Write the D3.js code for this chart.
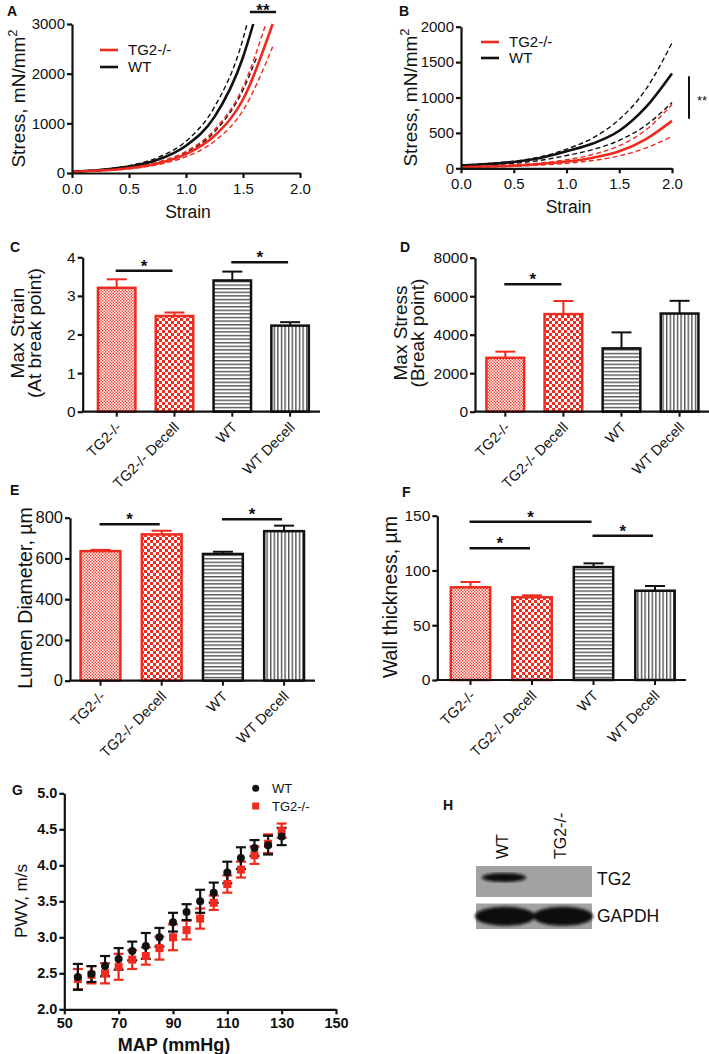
<!DOCTYPE html>
<html>
<head>
<meta charset="utf-8">
<script src="https://cdn.jsdelivr.net/npm/d3@7"></script>
<style>
  body { margin: 0; background: #fff; }
  svg text { font-family: "Liberation Sans", Arial, sans-serif; fill: #111; }
</style>
</head>
<body>
<svg id="fig" width="709" height="1054"></svg>
<script>
const RED = "#ee2b1e";

// ---- A: stress-strain, intact vessels (mean and +/- SEM bands)
const aWTx      = [0, 0.25, 0.5, 0.75, 1.0, 1.25, 1.5, 1.59];
const aWTy      = [30, 62, 128, 265, 550, 1130, 2330, 3000];
const aWTHiX    = [0, 0.25, 0.5, 0.75, 1.0, 1.25, 1.5, 1.535];
const aWTHiY    = [35, 72, 149, 310, 640, 1330, 2700, 3000];
const aWTLoX    = [0, 0.25, 0.5, 0.75, 1.0, 1.25, 1.5, 1.62];
const aWTLoY    = [25, 50, 101, 204, 411, 830, 1670, 2330];
const aKOx      = [0, 0.25, 0.5, 0.75, 1.0, 1.25, 1.5, 1.76];
const aKOy      = [25, 49, 97, 191, 380, 750, 1480, 3000];
const aKOHiX    = [0, 0.25, 0.5, 0.75, 1.0, 1.25, 1.5, 1.70];
const aKOHiY    = [28, 56, 110, 220, 437, 870, 1730, 3000];
const aKOLoX    = [0, 0.25, 0.5, 0.75, 1.0, 1.25, 1.5, 1.76];
const aKOLoY    = [22, 43, 85, 166, 328, 640, 1260, 2540];

// ---- B: stress-strain, decellularised vessels
const bX        = [0, 0.25, 0.5, 0.75, 1.0, 1.25, 1.5, 1.75, 2.0];
const bWTy      = [40, 60, 90, 145, 240, 350, 530, 860, 1340];
const bWTHiY    = [45, 66, 100, 160, 270, 430, 690, 1110, 1770];
const bWTLoY    = [35, 50, 72, 112, 180, 265, 395, 605, 930];
const bKOy      = [15, 25, 38, 60, 95, 150, 240, 410, 670];
const bKOHiY    = [20, 30, 48, 75, 120, 195, 320, 540, 900];
const bKOLoY    = [10, 18, 28, 44, 70, 110, 175, 285, 450];

// ---- C-F: bar charts
const groups = ["TG2-/-", "TG2-/- Decell", "WT", "WT Decell"];
const cMean = [3.21, 2.48, 3.40, 2.23];
const cErr  = [0.22, 0.09, 0.23, 0.09];
const dMean = [2800, 5070, 3290, 5100];
const dErr  = [320, 680, 830, 660];
const eMean = [636, 718, 622, 734];
const eErr  = [6, 18, 11, 27];
const fMean = [84.6, 75.5, 103.1, 81.5];
const fErr  = [4.9, 1.8, 3.4, 4.3];
// significance brackets: [group a, group b, height in data units]
const cSig = [[0, 1, 3.65], [2, 3, 3.87]];
const dSig = [[0, 1, 6620]];
const eSig = [[0, 1, 768], [2, 3, 792]];
const fSig = [[0, 2, 144.5], [0, 1, 120.2], [2, 3, 131.7]];

// ---- G: PWV vs MAP
const mapX     = [55, 60, 65, 70, 75, 80, 85, 90, 95, 100, 105, 110, 115, 120, 125, 130];
const pwvWT    = [2.45, 2.49, 2.60, 2.70, 2.81, 2.88, 3.00, 3.21, 3.35, 3.50, 3.62, 3.90, 4.10, 4.24, 4.28, 4.40];
const pwvWTErr = [0.18, 0.11, 0.14, 0.15, 0.13, 0.18, 0.13, 0.13, 0.11, 0.16, 0.14, 0.15, 0.15, 0.11, 0.13, 0.12];
const pwvKO    = [2.42, 2.48, 2.50, 2.59, 2.69, 2.74, 2.85, 3.00, 3.10, 3.26, 3.48, 3.74, 3.94, 4.14, 4.30, 4.48];
const pwvKOErr = [0.14, 0.12, 0.14, 0.18, 0.13, 0.12, 0.16, 0.18, 0.13, 0.14, 0.10, 0.12, 0.11, 0.12, 0.13, 0.10];

// ---- H: western blot lanes
const lanes       = ["WT", "TG2-/-"];
const tg2Signal   = [1, 0];
const gapdhSignal = [1, 1];

const svg = d3.select("#fig");
const defs = svg.append("defs");
const intFmt = d3.format("d");

// bar fill patterns
function checkPattern(id, s, col) {
  const p = defs.append("pattern").attr("id", id).attr("patternUnits", "userSpaceOnUse")
    .attr("width", 2 * s).attr("height", 2 * s);
  p.append("rect").attr("width", 2 * s).attr("height", 2 * s).attr("fill", "#fff");
  p.append("rect").attr("width", s).attr("height", s).attr("fill", col);
  p.append("rect").attr("x", s).attr("y", s).attr("width", s).attr("height", s).attr("fill", col);
}
checkPattern("checkFine", 1.5, "#f0493d");
checkPattern("checkCoarse", 3, RED);
const hs = defs.append("pattern").attr("id", "hStripes").attr("patternUnits", "userSpaceOnUse")
  .attr("width", 4).attr("height", 3.6);
hs.append("rect").attr("width", 4).attr("height", 3.6).attr("fill", "#fff");
hs.append("rect").attr("width", 4).attr("height", 1.4).attr("fill", "#555");
const vs = defs.append("pattern").attr("id", "vStripes").attr("patternUnits", "userSpaceOnUse")
  .attr("width", 3.6).attr("height", 4);
vs.append("rect").attr("width", 3.6).attr("height", 4).attr("fill", "#fff");
vs.append("rect").attr("width", 1.4).attr("height", 4).attr("fill", "#555");
defs.append("filter").attr("id", "blur").append("feGaussianBlur").attr("stdDeviation", 1.6);

const barFills   = ["url(#checkFine)", "url(#checkCoarse)", "url(#hStripes)", "url(#vStripes)"];
const barStrokes = [RED, RED, "#111", "#111"];

function styleAxis(g, size, bold) {
  g.selectAll(".domain, .tick line").attr("stroke", "#111").attr("stroke-width", 2.2);
  g.selectAll("text").attr("font-size", size).attr("font-weight", bold ? "bold" : "normal")
    .attr("fill", "#111").attr("font-family", "Liberation Sans, Arial, sans-serif");
}

function panelLetter(t, x, y) {
  svg.append("text").attr("x", x).attr("y", y).attr("font-size", 14)
    .attr("font-weight", "bold").text(t);
}

// ---------- stress-strain panels
function stressPanel(o) {
  const x = d3.scaleLinear().domain([0, 2]).range([o.x0, o.x1]);
  const y = d3.scaleLinear().domain([0, o.ymax]).range([o.yb, o.yt]);
  const g = svg.append("g");

  const line = d3.line().x(d => x(d[0])).y(d => y(d[1])).curve(d3.curveMonotoneX);
  o.series.forEach(s => {
    g.append("path").datum(d3.zip(s.x, s.y))
      .attr("d", line).attr("fill", "none").attr("stroke", s.col)
      .attr("stroke-width", s.dash ? 1.4 : 2.6)
      .attr("stroke-dasharray", s.dash ? "5,3" : null);
  });

  const xa = g.append("g").attr("transform", `translate(0,${o.yb})`)
    .call(d3.axisBottom(x).tickValues([0, 0.5, 1, 1.5, 2]).tickFormat(d3.format(".1f"))
      .tickSize(5).tickSizeOuter(0).tickPadding(5));
  styleAxis(xa, 15);
  const ya = g.append("g").attr("transform", `translate(${o.x0},0)`)
    .call(d3.axisLeft(y).tickValues(o.yticks).tickFormat(intFmt).tickSize(5).tickSizeOuter(0).tickPadding(2));
  styleAxis(ya, 15);

  // legend
  [["TG2-/-", RED], ["WT", "#111"]].forEach((d, i) => {
    const ly = o.legY + i * o.legDy;
    g.append("line").attr("x1", o.legX).attr("x2", o.legX + 18).attr("y1", ly).attr("y2", ly)
      .attr("stroke", d[1]).attr("stroke-width", 2.6);
    g.append("text").attr("x", o.legX + 28).attr("y", ly).attr("dy", "0.35em")
      .attr("font-size", 15).text(d[0]);
  });

  // axis titles
  g.append("text").attr("x", (o.x0 + o.x1) / 2 + 2).attr("y", o.yb + 45)
    .attr("text-anchor", "middle").attr("font-size", 17.5).text("Strain");
  const t = g.append("text").attr("transform", `translate(${o.titleX},${(o.yb + o.yt) / 2}) rotate(-90)`)
    .attr("text-anchor", "middle").attr("font-size", 19);
  t.append("tspan").text("Stress, mN/mm");
  t.append("tspan").attr("dy", -8).attr("font-size", 13).text("2");
  return { x, y, g };
}

const pA = stressPanel({
  x0: 72, x1: 300, yb: 173, yt: 24, ymax: 3000, yticks: [0, 1000, 2000, 3000],
  legX: 100, legY: 50, legDy: 17, titleX: 25,
  series: [
    { x: aWTHiX, y: aWTHiY, col: "#111", dash: true },
    { x: aWTLoX, y: aWTLoY, col: "#111", dash: true },
    { x: aKOHiX, y: aKOHiY, col: RED, dash: true },
    { x: aKOLoX, y: aKOLoY, col: RED, dash: true },
    { x: aWTx, y: aWTy, col: "#111" },
    { x: aKOx, y: aKOy, col: RED }
  ]
});
// ** bracket above curve ends
pA.g.append("line").attr("x1", pA.x(1.56)).attr("x2", pA.x(1.79)).attr("y1", 12).attr("y2", 12)
  .attr("stroke", "#111").attr("stroke-width", 2.5);
pA.g.append("text").attr("x", pA.x(1.675)).attr("y", 16).attr("text-anchor", "middle")
  .attr("font-size", 17).attr("font-weight", "bold").text("**");

const pB = stressPanel({
  x0: 461, x1: 672, yb: 168.3, yt: 26.7, ymax: 2000, yticks: [0, 500, 1000, 1500, 2000],
  legX: 481, legY: 42, legDy: 16, titleX: 417,
  series: [
    { x: bX, y: bWTHiY, col: "#111", dash: true },
    { x: bX, y: bWTLoY, col: "#111", dash: true },
    { x: bX, y: bKOHiY, col: RED, dash: true },
    { x: bX, y: bKOLoY, col: RED, dash: true },
    { x: bX, y: bWTy, col: "#111" },
    { x: bX, y: bKOy, col: RED }
  ]
});
pB.g.append("line").attr("x1", 689).attr("x2", 689).attr("y1", pB.y(1300)).attr("y2", pB.y(700))
  .attr("stroke", "#111").attr("stroke-width", 2);
pB.g.append("text").attr("x", 697).attr("y", pB.y(1000)).attr("dy", "0.55em")
  .attr("font-size", 13).text("**");

// ---------- bar panels
function barPanel(o) {
  const step = o.step;
  const r0 = o.c0 - step / 2;
  const x = d3.scaleBand().domain(groups).range([r0, r0 + step * groups.length])
    .paddingInner(o.pad).paddingOuter(o.pad / 2);
  const y = d3.scaleLinear().domain([0, o.ymax]).range([o.yb, o.yt]);
  const g = svg.append("g");
  const cx = d => x(d) + x.bandwidth() / 2;
  const rows = groups.map((k, i) => ({ k, i, m: o.mean[i], e: o.err[i] }));

  // error bars (upper half only, behind bars)
  rows.forEach(d => {
    g.append("line").attr("x1", cx(d.k)).attr("x2", cx(d.k)).attr("y1", y(d.m)).attr("y2", y(d.m + d.e))
      .attr("stroke", barStrokes[d.i]).attr("stroke-width", 2);
    g.append("line").attr("x1", cx(d.k) - 10).attr("x2", cx(d.k) + 10)
      .attr("y1", y(d.m + d.e)).attr("y2", y(d.m + d.e))
      .attr("stroke", barStrokes[d.i]).attr("stroke-width", 2);
  });
  g.selectAll("rect.bar").data(rows).join("rect").attr("class", "bar")
    .attr("x", d => x(d.k) + 1.2).attr("width", x.bandwidth() - 2.4)
    .attr("y", d => y(d.m)).attr("height", d => y(0) - y(d.m))
    .attr("fill", d => barFills[d.i]).attr("stroke", d => barStrokes[d.i]).attr("stroke-width", 2.5);

  // axes
  const ya = g.append("g").attr("transform", `translate(${o.ax},0)`)
    .call(d3.axisLeft(y).tickValues(o.yticks).tickFormat(intFmt).tickSize(5).tickSizeOuter(0).tickPadding(2));
  styleAxis(ya, o.tickSize);
  g.append("line").attr("x1", o.ax - 1).attr("x2", o.xEnd).attr("y1", o.yb).attr("y2", o.yb)
    .attr("stroke", "#111").attr("stroke-width", 2.2);
  rows.forEach(d => {
    g.append("line").attr("x1", cx(d.k)).attr("x2", cx(d.k)).attr("y1", o.yb).attr("y2", o.yb + 5)
      .attr("stroke", "#111").attr("stroke-width", 2);
    g.append("text").attr("transform", `translate(${cx(d.k) + 2},${o.yb + 13}) rotate(-45)`)
      .attr("text-anchor", "end").attr("dy", "0.35em").attr("font-size", 14.5).text(d.k);
  });

  // significance
  o.sig.forEach(s => {
    const x1 = cx(groups[s[0]]) - 1, x2 = cx(groups[s[1]]) - 2, yy = y(s[2]);
    g.append("line").attr("x1", x1).attr("x2", x2).attr("y1", yy).attr("y2", yy)
      .attr("stroke", "#111").attr("stroke-width", 2.5);
    g.append("text").attr("x", (x1 + x2) / 2).attr("y", yy + 1).attr("text-anchor", "middle")
      .attr("font-size", 17).attr("font-weight", "bold").text("*");
  });

  // y title
  const t = g.append("text").attr("transform", `translate(${o.tx},${o.ty}) rotate(-90)`)
    .attr("text-anchor", "middle").attr("font-size", o.titleSize);
  o.title.forEach((s, i) => t.append("tspan").attr("x", 0).attr("dy", i ? "0.92em" : 0).text(s));
  return g;
}

barPanel({ mean: cMean, err: cErr, sig: cSig, ymax: 4, yticks: [0, 1, 2, 3, 4],
  ax: 82.7, xEnd: 320, yb: 411.7, yt: 257.3, c0: 116.7, step: 57.8, pad: 0.31,
  tx: 24, ty: 333, title: ["Max Strain", "(At break point)"], titleSize: 19, tickSize: 15.5 });
barPanel({ mean: dMean, err: dErr, sig: dSig, ymax: 8000, yticks: [0, 2000, 4000, 6000, 8000],
  ax: 475, xEnd: 709, yb: 411.7, yt: 257.7, c0: 505.3, step: 58.1, pad: 0.31,
  tx: 407, ty: 333, title: ["Max Stress", "(Break point)"], titleSize: 19, tickSize: 15.5 });
barPanel({ mean: eMean, err: eErr, sig: eSig, ymax: 800, yticks: [0, 200, 400, 600, 800],
  ax: 70, xEnd: 315, yb: 680.7, yt: 517.7, c0: 100.5, step: 61.2, pad: 0.31,
  tx: 32, ty: 598, title: ["Lumen Diameter, µm"], titleSize: 19.5, tickSize: 16.5 });
barPanel({ mean: fMean, err: fErr, sig: fSig, ymax: 150, yticks: [0, 50, 100, 150],
  ax: 437.3, xEnd: 686, yb: 680, yt: 515.7, c0: 470.5, step: 61.5, pad: 0.32,
  tx: 397, ty: 597, title: ["Wall thickness, µm"], titleSize: 19.5, tickSize: 15.5 });

// ---------- G: PWV
(function () {
  const x = d3.scaleLinear().domain([50, 150]).range([64.3, 336]);
  const y = d3.scaleLinear().domain([2, 5]).range([1009.3, 793.3]);
  const g = svg.append("g");
  const ser = [
    { v: pwvKO, e: pwvKOErr, col: RED, sq: true },
    { v: pwvWT, e: pwvWTErr, col: "#111", sq: false }
  ];
  ser.forEach(s => {
    mapX.forEach((m, i) => {
      const px = x(m), lo = y(s.v[i] - s.e[i]), hi = y(s.v[i] + s.e[i]);
      g.append("line").attr("x1", px).attr("x2", px).attr("y1", lo).attr("y2", hi)
        .attr("stroke", s.col).attr("stroke-width", 2.2);
      [lo, hi].forEach(yy => g.append("line").attr("x1", px - 5).attr("x2", px + 5)
        .attr("y1", yy).attr("y2", yy).attr("stroke", s.col).attr("stroke-width", 2.2));
    });
  });
  ser.forEach(s => {
    mapX.forEach((m, i) => {
      if (s.sq) g.append("rect").attr("x", x(m) - 4).attr("y", y(s.v[i]) - 4)
        .attr("width", 8).attr("height", 8).attr("fill", s.col);
      else g.append("circle").attr("cx", x(m)).attr("cy", y(s.v[i])).attr("r", 4).attr("fill", s.col);
    });
  });

  const xa = g.append("g").attr("transform", "translate(0,1009.3)")
    .call(d3.axisBottom(x).tickValues([50, 70, 90, 110, 130, 150]).tickSize(5).tickSizeOuter(0).tickPadding(3));
  styleAxis(xa, 14.5, true);
  const ya = g.append("g").attr("transform", "translate(64.3,0)")
    .call(d3.axisLeft(y).tickValues([2, 2.5, 3, 3.5, 4, 4.5, 5]).tickFormat(d3.format(".1f"))
      .tickSize(5).tickSizeOuter(0).tickPadding(2));
  styleAxis(ya, 14.5, true);

  g.append("text").attr("x", 174).attr("y", 1051).attr("text-anchor", "middle")
    .attr("font-size", 18).attr("font-weight", "bold").text("MAP (mmHg)");
  g.append("text").attr("transform", "translate(27,901) rotate(-90)").attr("text-anchor", "middle")
    .attr("font-size", 17).text("PWV, m/s");

  g.append("circle").attr("cx", 255.7).attr("cy", 788.3).attr("r", 3.5).attr("fill", "#111");
  g.append("text").attr("x", 272).attr("y", 788.3).attr("dy", "0.35em").attr("font-size", 13).text("WT");
  g.append("rect").attr("x", 252.2).attr("y", 802.5).attr("width", 7).attr("height", 7).attr("fill", RED);
  g.append("text").attr("x", 272).attr("y", 806).attr("dy", "0.35em").attr("font-size", 13).text("TG2-/-");
})();

// ---------- H: western blot
(function () {
  const x = d3.scaleBand().domain(lanes).range([476, 592]);
  const g = svg.append("g");
  const rows = [
    { name: "TG2", y0: 866, h: 31, sig: tg2Signal, bh: 9 },
    { name: "GAPDH", y0: 903.5, h: 25.5, sig: gapdhSignal, bh: 19 }
  ];
  rows.forEach(r => {
    g.append("rect").attr("x", 476).attr("y", r.y0).attr("width", 116).attr("height", r.h)
      .attr("fill", "#a2a2a2");
    const bands = g.append("g").attr("filter", "url(#blur)");
    lanes.forEach((l, i) => {
      if (!r.sig[i]) return;
      const cx = x(l) + x.bandwidth() / 2;
      const w = r.name === "TG2" ? 22 : 30;
      bands.append("ellipse").attr("cx", cx + (r.name === "TG2" ? -1 : 0))
        .attr("cy", r.y0 + r.h / 2 - (r.name === "TG2" ? 4 : 0))
        .attr("rx", w).attr("ry", r.bh / 2).attr("fill", "#0a0a0a").attr("opacity", r.sig[i]);
    });
    g.append("text").attr("x", 597).attr("y", r.y0 + r.h / 2 - (r.name === "TG2" ? 3 : 0))
      .attr("dy", "0.35em").attr("font-size", 17.5).text(r.name);
  });
  lanes.forEach(l => {
    const cx = x(l) + x.bandwidth() / 2;
    g.append("text").attr("transform", `translate(${cx + 3},${859}) rotate(-90)`)
      .attr("font-size", 16).text(l);
  });
})();

panelLetter("A", 7, 16);
panelLetter("B", 399, 16);
panelLetter("C", 10, 252);
panelLetter("D", 400, 252);
panelLetter("E", 10, 495);
panelLetter("F", 402, 497);
panelLetter("G", 12, 795);
panelLetter("H", 443, 810);
</script>
</body>
</html>
